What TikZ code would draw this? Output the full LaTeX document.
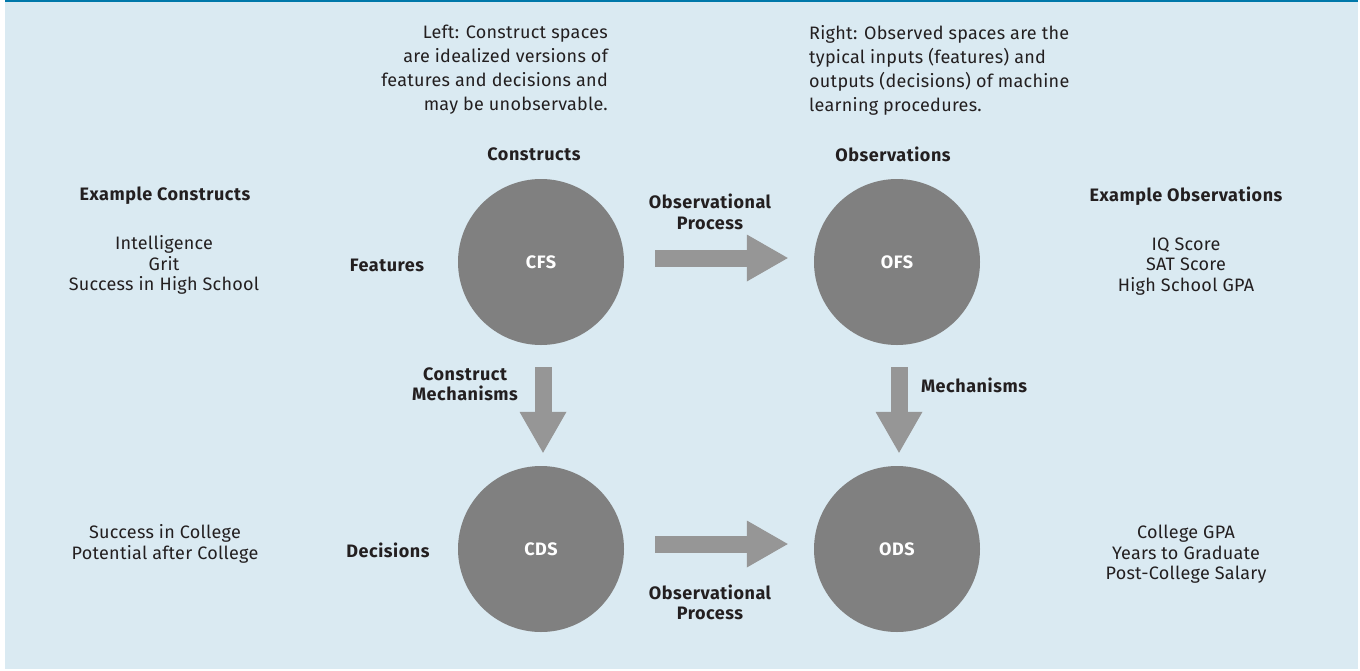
\documentclass[tikz,border=0pt]{standalone}
\usepackage{fontspec}
\setmainfont{Fira Sans}[LetterSpace=1.5, BoldFeatures={LetterSpace=3.0}]
\usetikzlibrary{arrows.meta}
\definecolor{bgblue}{RGB}{218,234,242}
\definecolor{topblue}{RGB}{0,120,170}
\definecolor{circgray}{RGB}{128,128,128}
\definecolor{arrgray}{RGB}{150,150,150}
\definecolor{txt}{RGB}{35,31,32}
\begin{document}
\begin{tikzpicture}[x=1pt,y=-1pt,
  space/.style={circle, fill=circgray, minimum size=166pt, inner sep=0pt, text=white, font=\fontsize{18}{20}\selectfont\bfseries},
  blockarrow/.style={draw=arrgray, line width=17pt, -{Triangle[length=41pt,width=47pt,line width=0pt]}},
  para/.style={inner sep=0pt, text=txt, font=\fontsize{18}{24}\selectfont},
  lbl/.style={inner sep=0pt, text=txt, align=center, font=\fontsize{18}{20.5}\selectfont\bfseries},
  lst/.style={inner sep=0pt, text=txt, align=center, font=\fontsize{18}{20.5}\selectfont},
]
\useasboundingbox (0,0) rectangle (1360,670);
\fill[bgblue] (5,0) rectangle (1358,669);
\fill[topblue] (5,0) rectangle (1358,1.5);

\node[space] (cfs) at (541,262) {CFS};
\node[space] (ofs) at (897,262) {OFS};
\node[space] (cds) at (541,549) {CDS};
\node[space] (ods) at (897,549) {ODS};

\draw[blockarrow, shorten <=31pt, shorten >=26pt] ([yshift=4pt]cfs.east) -- ([yshift=4pt]ofs.west);
\draw[blockarrow, shorten <=31pt, shorten >=26pt] ([yshift=5pt]cds.east) -- ([yshift=5pt]ods.west);
\draw[blockarrow, shorten <=22pt, shorten >=13pt] ([xshift=2pt]cfs.south) -- ([xshift=2pt]cds.north);
\draw[blockarrow, shorten <=22pt, shorten >=13pt] ([xshift=2pt]ofs.south) -- ([xshift=2pt]ods.north);

\node[para, align=right, anchor=north east] (lefttxt) at (608,25) {Left: Construct spaces\\are idealized versions of\\features and decisions and\\may be unobservable.};
\node[para, align=left, anchor=north west] (righttxt) at (809,25) {Right: Observed spaces are the\\typical inputs (features) and\\outputs (decisions) of machine\\learning procedures.};

\node[lbl] (constructs) at (534,154) {Constructs};
\node[lbl] (observations) at (893,154) {Observations};
\node[lbl] (excon) at (165,196) {Example Constructs};
\node[lbl] (exobs) at (1186,196) {Example Observations};
\node[lst] (conlist1) at (164,265) {Intelligence\\Grit\\Success in High School};
\node[lst] (obslist1) at (1186,266.5) {IQ Score\\SAT Score\\High School GPA};
\node[lbl] (features) at (387,265) {Features};
\node[lbl] (decisions) at (388,550) {Decisions};
\node[lbl] (op1) at (710,212) {Observational\\Process};
\node[lbl] (op2) at (710,602.5) {Observational\\Process};
\node[lbl] (cm) at (465,384.5) {Construct\\Mechanisms};
\node[lbl] (mech) at (974,385) {Mechanisms};
\node[lst] (conlist2) at (165,544) {Success in College\\Potential after College};
\node[lst] (obslist2) at (1186,554.5) {College GPA\\Years to Graduate\\Post-College Salary};
\end{tikzpicture}
\end{document}
